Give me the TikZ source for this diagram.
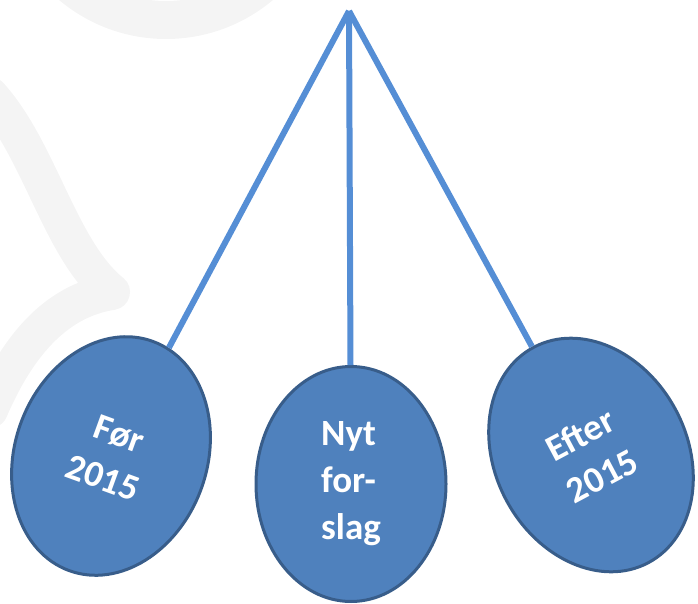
\documentclass[tikz,border=0pt]{standalone}
\usepackage{fontspec}
\setmainfont{Carlito}
\usepackage{tikz}
\usetikzlibrary{shapes.geometric}
\definecolor{myblue}{RGB}{79,129,189}
\definecolor{myborder}{RGB}{56,93,138}
\definecolor{mylinecol}{RGB}{85,142,213}
\definecolor{mygray}{RGB}{244,244,244}
\newcommand\myoval[4][]{%
  \node[myoval,#1] (#2) at (#3) {#4};
}

\begin{document}
\begin{tikzpicture}[x=1pt, y=-1pt,
myoval/.style={
  ellipse,
  draw=myborder,
  line width=3pt,
  fill=myblue,
  text=white,
  font=\fontsize{37}{47}\selectfont\bfseries,
  align=center,
  inner sep=0pt,
  minimum width=192pt,
  minimum height=244pt},
myline/.style={
  draw=mylinecol,
  line width=6pt}
]
\useasboundingbox (0,0) rectangle (698,604);
% faint shapes behind
\draw[mygray, line width=38pt] (166,-127) circle[radius=147pt];
\draw[mygray, line width=36pt, line cap=round, line join=round]
  (-10,95) .. controls (40,150) and (60,250) .. (112,292)
  .. controls (60,300) and (20,340) .. (-10,410);

\coordinate (top) at (349,11);
\myoval[rotate=-20]{foer}{111,456}{Før\\2015} %left
\myoval[align=left, minimum width=190pt, minimum height=235pt]{nyt}{351,484}{Nyt\\for-\\slag} %middle
\myoval[rotate=28]{efter}{591,455}{Efter\\2015} %right

\draw[myline] (top) -- (foer);
\draw[myline] (top) -- (nyt);
\draw[myline] (top) -- (efter);

\end{tikzpicture}
\end{document}
